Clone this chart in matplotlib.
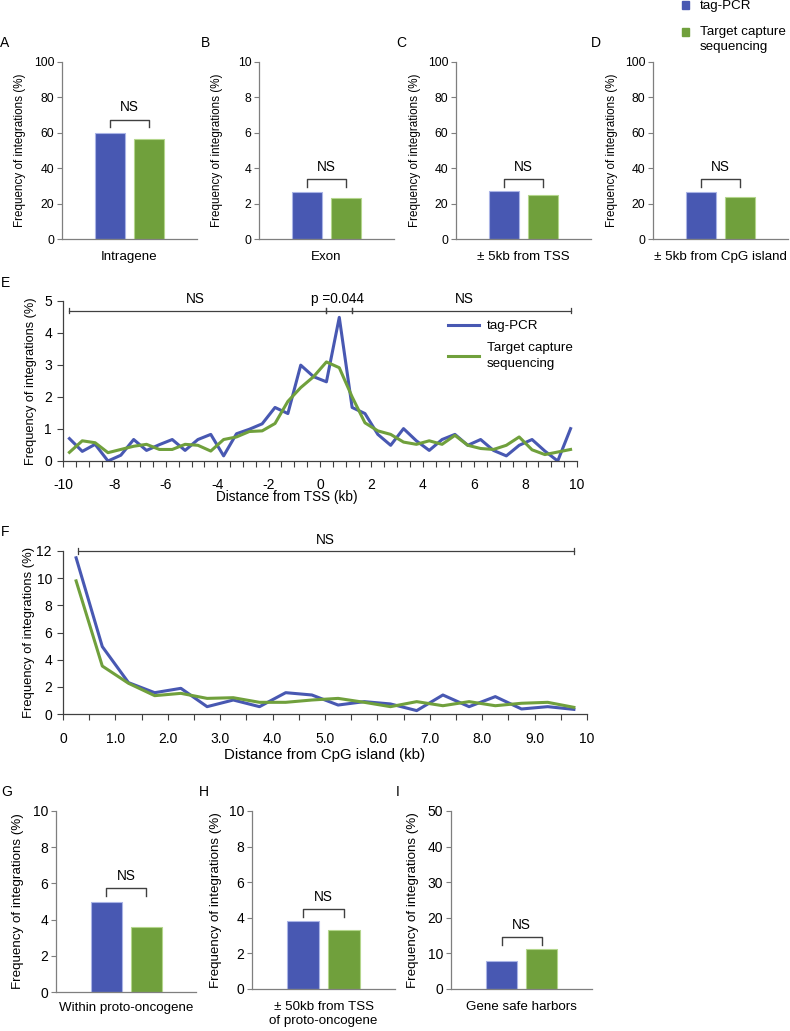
import numpy as np
import matplotlib
matplotlib.use('Agg')
import matplotlib.pyplot as plt
from matplotlib.patches import Rectangle

plt.rcParams['font.family'] = ['Liberation Sans', 'DejaVu Sans']
plt.rcParams['axes.unicode_minus'] = False

W, H = 790, 1031
BLUE = '#4858B2'
GREEN = '#70A03C'
SPINE = '#7f7f7f'

# ---------------------------
# data
# ---------------------------
series = ['tag-PCR', 'Target capture\nsequencing']

bar_letters = ['A', 'B', 'C', 'D', 'G', 'H', 'I']
bar_cats = ['Intragene', 'Exon', '± 5kb from TSS', '± 5kb from CpG island',
            'Within proto-oncogene', '± 50kb from TSS\nof proto-oncogene', 'Gene safe harbors']
bar_tag = [60.0, 2.65, 27.0, 26.5, 5.0, 3.8, 8.0]
bar_cap = [56.5, 2.3, 25.0, 23.5, 3.6, 3.3, 11.1]
bar_ymax = [100, 10, 100, 100, 10, 10, 50]
bar_ystep = [20, 2, 20, 20, 2, 2, 10]
bar_bracket = [67.4, 3.39, 33.9, 33.9, 5.73, 4.48, 14.5]

tss_x = np.arange(-9.75, 10, 0.5)
tss_tag = [0.70, 0.30, 0.52, 0.00, 0.18, 0.67, 0.33, 0.51, 0.67, 0.33,
           0.67, 0.83, 0.16, 0.85, 0.99, 1.16, 1.67, 1.48, 2.99, 2.63,
           2.47, 4.48, 1.67, 1.48, 0.83, 0.49, 1.01, 0.63, 0.33, 0.67,
           0.83, 0.49, 0.67, 0.33, 0.16, 0.49, 0.67, 0.31, 0.00, 1.01]
tss_cap = [0.27, 0.63, 0.57, 0.26, 0.36, 0.46, 0.52, 0.36, 0.36, 0.52,
           0.49, 0.31, 0.67, 0.75, 0.92, 0.94, 1.17, 1.86, 2.29, 2.63,
           3.09, 2.91, 2.00, 1.19, 0.94, 0.83, 0.59, 0.52, 0.63, 0.52,
           0.80, 0.49, 0.39, 0.36, 0.49, 0.75, 0.35, 0.20, 0.28, 0.36]
tss_brackets = [(-9.75, 0.25, 'NS', -4.85), (0.25, 1.25, 'p =0.044', 0.7), (1.25, 9.75, 'NS', 5.6)]

cpg_x = np.arange(0.25, 10, 0.5)
cpg_tag = [11.5, 4.96, 2.31, 1.57, 1.89, 0.54, 1.03, 0.54, 1.57, 1.40,
           0.66, 0.91, 0.74, 0.25, 1.40, 0.54, 1.28, 0.37, 0.54, 0.34]
cpg_cap = [9.8, 3.53, 2.26, 1.35, 1.52, 1.15, 1.20, 0.86, 0.86, 1.03,
           1.15, 0.86, 0.54, 0.91, 0.61, 0.91, 0.61, 0.79, 0.86, 0.49]
cpg_ticklabels = ['0', '1.0', '2.0', '3.0', '4.0', '5.0', '6.0', '7.0', '8.0', '9.0', '10']

# ---------------------------
# layout (pixels: left, right, top, bottom)
# ---------------------------
bar_rects = [(62, 197, 62, 239), (259, 394, 62, 239), (456, 591, 62, 239), (653, 788, 62, 239),
             (56, 196, 811, 992), (252, 395, 811, 989), (451, 592, 811, 989)]
bar_ylab_x = [20, 217, 415, 612, 18, 216, 413]
bar_letter_xy = [(5, 43), (205, 43), (401, 43), (596, 43), (7, 792), (204, 792), (398, 792)]
bar_cat_y = [257, 257, 257, 257, 1008, 1014, 1007]

fig = plt.figure(figsize=(W / 100, H / 100), dpi=100)


def add_ax(l, r, t, b):
    return fig.add_axes([l / W, 1 - b / H, (r - l) / W, (b - t) / H])


def style(ax, color):
    for s in ['top', 'right']:
        ax.spines[s].set_visible(False)
    for s in ['left', 'bottom']:
        ax.spines[s].set_color(color)
        ax.spines[s].set_linewidth(0.9)


def letter(x, y, s):
    fig.text(x / W, 1 - y / H, s, ha='center', va='center', fontsize=10)


# ---------------------------
# bar panels
# ---------------------------
for i in range(len(bar_letters)):
    l, r, t, b = bar_rects[i]
    ax = add_ax(l, r, t, b)
    style(ax, SPINE)
    top_row = i < 4
    ax.bar([0, 1], [bar_tag[i], bar_cap[i]], width=0.78, color=[BLUE, GREEN],
           edgecolor=['#aab4e6', '#b4d68c'], linewidth=0.8)
    ax.set_xlim(-1.26, 2.25)
    ax.set_ylim(0, bar_ymax[i])
    ax.set_yticks(np.arange(0, bar_ymax[i] + 0.01, bar_ystep[i]))
    ax.set_xticks([])
    ax.tick_params(axis='y', length=3.5, width=0.8, color=SPINE, pad=2,
                   labelsize=8.8 if top_row else 10)
    # NS bracket
    yb = bar_bracket[i]
    leg = 0.043 * bar_ymax[i]
    ax.plot([0, 0, 1, 1], [yb - leg, yb, yb, yb - leg], color='#404040', lw=1.0)
    ax.text(0.5, yb + 0.07 * bar_ymax[i], 'NS', ha='center', va='center', fontsize=9.8)
    ax.set_ylabel('Frequency of integrations (%)', va='center',
                  fontsize=8.4 if top_row else 9.6)
    ax.yaxis.set_label_coords((bar_ylab_x[i] - l) / (r - l), 0.5)
    ax.set_xlabel(bar_cats[i], va='center', fontsize=9.6, linespacing=1.2)
    ax.xaxis.set_label_coords(0.5, -(bar_cat_y[i] - b) / (b - t))
    letter(*bar_letter_xy[i], bar_letters[i])

# legend at top right
for yc, col in [(5, BLUE), (32, GREEN)]:
    fig.add_artist(Rectangle((682 / W, 1 - (yc + 4) / H), 7 / W, 8 / H,
                             transform=fig.transFigure, color=col))
fig.text(700 / W, 1 - 6 / H, series[0], ha='left', va='center', fontsize=9.6)
fig.text(700 / W, 1 - 39.5 / H, series[1], ha='left', va='center', fontsize=9.6, linespacing=1.25)

# ---------------------------
# E: distance from TSS
# ---------------------------
axE = add_ax(63, 577, 300.7, 461)
style(axE, '#404040')
axE.plot(tss_x, tss_tag, color=BLUE, lw=2.2, label=series[0])
axE.plot(tss_x, tss_cap, color=GREEN, lw=2.2, label=series[1])
axE.set_xlim(-10, 10)
axE.set_ylim(0, 5)
axE.set_xticks(np.arange(-10, 11, 2))
axE.set_xticks(np.arange(-10, 10.1, 0.5), minor=True)
axE.set_yticks(np.arange(0, 6, 1))
axE.tick_params(which='both', length=4, width=0.8, color='#404040', labelsize=10)
axE.tick_params(axis='x', pad=8)
axE.tick_params(axis='y', pad=4)
for x0, x1, s, xt in tss_brackets:
    axE.plot([x0, x1], [4.69, 4.69], color='#404040', lw=0.9, clip_on=False)
    axE.plot([x0, x0], [4.62, 4.76], color='#404040', lw=0.9, clip_on=False)
    axE.plot([x1, x1], [4.62, 4.76], color='#404040', lw=0.9, clip_on=False)
    axE.text(xt, 5.05, s, ha='center', va='center', fontsize=9.8)
legE = axE.legend(loc='upper left', bbox_to_anchor=(0.749, 0.88), frameon=False, fontsize=9.6,
                  handlelength=2.3, handletextpad=0.6, labelspacing=0.75, borderpad=0, borderaxespad=0)
for txt in legE.get_texts():
    txt.set_linespacing(1.45)
axE.set_ylabel('Frequency of integrations (%)', va='center', fontsize=9.2)
axE.yaxis.set_label_coords((31 - 63) / 514, 0.5)
axE.set_xlabel('Distance from TSS (kb)', va='center', fontsize=9.8)
axE.xaxis.set_label_coords((287 - 63) / 514, -(497 - 461) / 160.3)
letter(5, 283, 'E')

# ---------------------------
# F: distance from CpG island
# ---------------------------
axF = add_ax(63, 587, 551, 714)
style(axF, '#404040')
axF.plot(cpg_x, cpg_tag, color=BLUE, lw=2.2)
axF.plot(cpg_x, cpg_cap, color=GREEN, lw=2.2)
axF.set_xlim(0, 10)
axF.set_ylim(0, 12)
axF.set_xticks(np.arange(0, 11, 1))
axF.set_xticklabels(cpg_ticklabels)
axF.set_xticks(np.arange(0, 10.1, 0.5), minor=True)
axF.set_yticks(np.arange(0, 13, 2))
axF.tick_params(which='both', length=4, width=0.8, color='#404040', labelsize=10)
axF.tick_params(axis='x', pad=9)
axF.tick_params(axis='y', pad=4)
axF.plot([0.29, 9.76], [12, 12], color='#404040', lw=0.9, clip_on=False)
axF.plot([0.29, 0.29], [11.8, 12.2], color='#404040', lw=0.9, clip_on=False)
axF.plot([9.76, 9.76], [11.8, 12.2], color='#404040', lw=0.9, clip_on=False)
axF.text(5.0, 12.8, 'NS', ha='center', va='center', fontsize=9.8)
axF.set_ylabel('Frequency of integrations (%)', va='center', fontsize=9.4)
axF.yaxis.set_label_coords((29 - 63) / 524, 0.5)
axF.set_xlabel('Distance from CpG island (kb)', va='center', fontsize=10.8)
axF.xaxis.set_label_coords(0.5, -(755 - 714) / 163)
letter(5, 532, 'F')

fig.savefig('out.png', dpi=100)
